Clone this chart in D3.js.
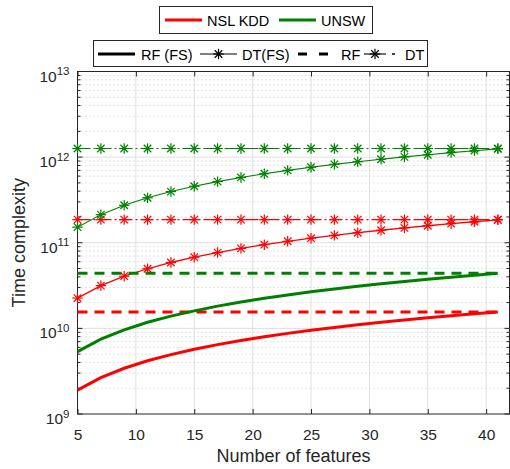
<!DOCTYPE html>
<html><head><meta charset="utf-8">
<script src="https://cdn.jsdelivr.net/npm/d3@7"></script>
<style>body{margin:0;background:#fff}svg{display:block;font-family:"Liberation Sans",Arial,sans-serif}</style>
</head><body>
<script>
const features = [5,7,9,11,13,15,17,19,21,23,25,27,29,31,33,35,37,39,41];
const nslRfFs = [1.9e9,2.66e9,3.42e9,4.18e9,4.94e9,5.7e9,6.46e9,7.22e9,7.98e9,8.74e9,9.5e9,1.026e10,1.102e10,1.178e10,1.254e10,1.33e10,1.406e10,1.482e10,1.558e10];
const unswRfFs = [5.35e9,7.5e9,9.6e9,1.18e10,1.39e10,1.6e10,1.82e10,2.03e10,2.25e10,2.46e10,2.68e10,2.89e10,3.1e10,3.32e10,3.53e10,3.75e10,3.96e10,4.17e10,4.39e10];
const nslDtFs = [2.26e10,3.16e10,4.07e10,4.97e10,5.88e10,6.78e10,7.68e10,8.59e10,9.49e10,1.04e11,1.13e11,1.22e11,1.31e11,1.40e11,1.49e11,1.58e11,1.67e11,1.76e11,1.85e11];
const unswDtFs = [1.52e11,2.13e11,2.74e11,3.35e11,3.96e11,4.57e11,5.18e11,5.79e11,6.4e11,7.01e11,7.62e11,8.23e11,8.84e11,9.45e11,1.006e12,1.067e12,1.128e12,1.189e12,1.25e12];
const nslRf = 1.55e10, unswRf = 4.4e10, nslDt = 1.86e11, unswDt = 1.26e12;
const xTicks = [5,10,15,20,25,30,35,40];
const yTickExps = [9,10,11,12,13];
const datasets = ["NSL KDD","UNSW"];
const methods = ["RF (FS)","DT(FS)","RF","DT"];

const W=510,H=469;
const svg=d3.select("body").append("svg").attr("width",W).attr("height",H);
const x=d3.scaleLinear().domain([5,42]).range([77.5,509.5]);
const y=d3.scaleLog().domain([1e9,1e13]).range([414,71.5]);
const RED="#ff0000",GREEN="#008000",AX="#262626";
const L=x.range()[0],R=x.range()[1],T=y.range()[1],B=y.range()[0];

// minor grid
const minors=[];
for(let e=9;e<13;e++)for(let m=2;m<=9;m++)minors.push(m*Math.pow(10,e));
svg.append("g").selectAll("line").data(minors).join("line")
 .attr("x1",L).attr("x2",R).attr("y1",d=>y(d)).attr("y2",d=>y(d))
 .attr("stroke","#c8c8c8").attr("stroke-width",1).attr("stroke-dasharray","1,3");
// major grid
svg.append("g").selectAll("line").data(xTicks.slice(1)).join("line")
 .attr("x1",d=>x(d)).attr("x2",d=>x(d)).attr("y1",T).attr("y2",B)
 .attr("stroke","#dfdfdf").attr("stroke-width",1);
svg.append("g").selectAll("line").data(yTickExps.slice(1,-1)).join("line")
 .attr("x1",L).attr("x2",R).attr("y1",d=>y(Math.pow(10,d))).attr("y2",d=>y(Math.pow(10,d)))
 .attr("stroke","#dfdfdf").attr("stroke-width",1);

// axes ticks
const ax=svg.append("g");
const xb=d3.axisBottom(x).tickValues(xTicks).tickSize(-5).tickPadding(0).tickFormat(d3.format("d"));
const gx=ax.append("g").attr("transform",`translate(0,${B})`).call(xb);
gx.select(".domain").remove();
gx.selectAll("line").attr("stroke",AX);
gx.selectAll("text").attr("fill",AX).attr("y",26).attr("dy",null).style("font-size","15.5px").style("font-family","Liberation Sans, Arial");
const gxt=ax.append("g").attr("transform",`translate(0,${T})`).call(d3.axisTop(x).tickValues(xTicks).tickSize(-5).tickFormat(""));
gxt.select(".domain").remove(); gxt.selectAll("line").attr("stroke",AX);
// y ticks
const majorsY=yTickExps.map(e=>Math.pow(10,e));
[L,R].forEach((px,i)=>{
  const dir=i===0?1:-1;
  ax.append("g").selectAll("line").data(majorsY).join("line")
   .attr("x1",px).attr("x2",px+dir*5).attr("y1",d=>y(d)).attr("y2",d=>y(d)).attr("stroke",AX);
  ax.append("g").selectAll("line").data(minors).join("line")
   .attr("x1",px).attr("x2",px+dir*3).attr("y1",d=>y(d)).attr("y2",d=>y(d)).attr("stroke",AX);
});
const yl=ax.append("g").selectAll("text").data(yTickExps).join("text")
 .attr("x",L-8).attr("y",d=>y(Math.pow(10,d))+10).attr("text-anchor","end").attr("fill",AX)
 .style("font-size","15.5px");
yl.append("tspan").text("10");
yl.append("tspan").text(d=>d).attr("dy",-6.5).style("font-size","11.5px");
// box
svg.append("rect").attr("x",L).attr("y",T).attr("width",R-L).attr("height",B-T)
 .attr("fill","none").attr("stroke",AX).attr("stroke-width",1);

// labels
svg.append("text").attr("x",(L+R)/2).attr("y",462).attr("text-anchor","middle").attr("fill",AX)
 .style("font-size","18px").text("Number of features");
svg.append("text").attr("transform",`translate(25,${(T+B)/2}) rotate(-90)`).attr("text-anchor","middle").attr("fill",AX)
 .style("font-size","18px").text("Time complexity");

// data lines
const plot=svg.append("g");
const line=d3.line().x(d=>x(d[0])).y(d=>y(d[1]));
function star(g,cx,cy,color,r=5.2){
  const s=g.append("g").attr("transform",`translate(${cx},${cy})`).attr("stroke",color).attr("stroke-width",1.2);
  s.append("line").attr("x1",-r).attr("x2",r).attr("y1",0).attr("y2",0);
  s.append("line").attr("x1",0).attr("x2",0).attr("y1",-r).attr("y2",r);
  const k=r*0.72;
  s.append("line").attr("x1",-k).attr("x2",k).attr("y1",-k).attr("y2",k);
  s.append("line").attr("x1",-k).attr("x2",k).attr("y1",k).attr("y2",-k);
}
const series=[
 {vals:features.map(()=>unswDt),c:GREEN,w:1.1,dash:"13,3,2,3",mk:true},
 {vals:features.map(()=>nslDt),c:RED,w:1.1,dash:"13,3,2,3",mk:true},
 {vals:unswDtFs,c:GREEN,w:1.1,dash:null,mk:true},
 {vals:nslDtFs,c:RED,w:1.3,dash:null,mk:true},
 {vals:features.map(()=>unswRf),c:GREEN,w:3,dash:"10,7",mk:false},
 {vals:features.map(()=>nslRf),c:RED,w:3,dash:"10,7",mk:false},
 {vals:unswRfFs,c:GREEN,w:3,dash:null,mk:false},
 {vals:nslRfFs,c:RED,w:3,dash:null,mk:false},
];
series.forEach(s=>{
  const pts=features.map((f,i)=>[f,s.vals[i]]);
  plot.append("path").attr("d",line(pts)).attr("fill","none").attr("stroke",s.c)
   .attr("stroke-width",s.w).attr("stroke-dasharray",s.dash);
  if(s.mk) pts.forEach(p=>star(plot,x(p[0]),y(p[1]),s.c));
});

// legend 1
const lg1=svg.append("g");
lg1.append("rect").attr("x",159.5).attr("y",6.5).attr("width",213).attr("height",27).attr("fill","#fff").attr("stroke",AX);
[[165,207,RED],[279,321,GREEN]].forEach((p,i)=>{
  lg1.append("line").attr("x1",p[0]).attr("x2",p[0]+37).attr("y1",20).attr("y2",20).attr("stroke",p[2]).attr("stroke-width",3);
  lg1.append("text").attr("x",p[1]).attr("y",25.5).attr("fill","#000").style("font-size","14.5px").text(datasets[i]);
});
// legend 2
const lg2=svg.append("g");
lg2.append("rect").attr("x",93.5).attr("y",40.5).attr("width",334).attr("height",26).attr("fill","#fff").attr("stroke",AX);
const ly=54;
lg2.append("line").attr("x1",98).attr("x2",135).attr("y1",ly).attr("y2",ly).attr("stroke","#000").attr("stroke-width",3);
lg2.append("line").attr("x1",200).attr("x2",237).attr("y1",ly).attr("y2",ly).attr("stroke","#000").attr("stroke-width",1.1);
star(lg2,218.5,ly,"#000");
lg2.append("line").attr("x1",298).attr("x2",328).attr("y1",ly).attr("y2",ly).attr("stroke","#000").attr("stroke-width",3).attr("stroke-dasharray","9,12");
lg2.append("line").attr("x1",364).attr("x2",386).attr("y1",ly).attr("y2",ly).attr("stroke","#000").attr("stroke-width",1.1);
lg2.append("line").attr("x1",392).attr("x2",395).attr("y1",ly).attr("y2",ly).attr("stroke","#000").attr("stroke-width",1.5);
star(lg2,375,ly,"#000");
[[141,methods[0]],[242,methods[1]],[341,methods[2]],[405,methods[3]]].forEach(p=>{
  lg2.append("text").attr("x",p[0]).attr("y",59.5).attr("fill","#000").style("font-size","14.5px").text(p[1]);
});
</script>
</body></html>
